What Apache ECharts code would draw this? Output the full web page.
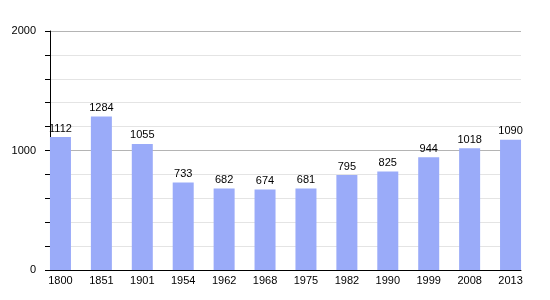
<!DOCTYPE html>
<html><head><meta charset="utf-8">
<script src="https://cdn.jsdelivr.net/npm/echarts@6/dist/echarts.min.js"></script>
<style>html,body{margin:0;padding:0;background:#fff}#c{width:550px;height:300px}</style>
</head><body><div id="c"></div>
<script>
const years = ['1800','1851','1901','1954','1962','1968','1975','1982','1990','1999','2008','2013'];
const population = [1112,1284,1055,733,682,674,681,795,825,944,1018,1090];
const yMin = 0, yMax = 2000, yStep = 1000;

const font = 'Liberation Sans, Arial, sans-serif';
const chart = echarts.init(document.getElementById('c'));
chart.setOption({
  animation: false,
  grid: [
    {left: 40, right: 19, top: 31, bottom: 30},
    {left: 50, right: 29, top: 31, bottom: 30}
  ],
  xAxis: [
    {gridIndex: 0, type: 'category', data: years,
     axisLine: {show: false}, axisTick: {show: false},
     axisLabel: {color: '#000', fontSize: 11, fontFamily: font, margin: 5}},
    {gridIndex: 1, type: 'value', min: 0, max: 1, show: true,
     axisLine: {show: true, onZero: false, lineStyle: {color: '#000', width: 1}},
     axisTick: {show: false}, axisLabel: {show: false}, splitLine: {show: false}}
  ],
  yAxis: [
    {gridIndex: 0, type: 'value', min: yMin, max: yMax, show: false},
    {gridIndex: 1, type: 'value', min: yMin, max: yMax, interval: yStep,
     axisLine: {show: true, lineStyle: {color: '#000', width: 1}},
     axisTick: {show: true, inside: false, length: 5, lineStyle: {color: '#000'}},
     minorTick: {show: true, splitNumber: 5, length: 5, lineStyle: {color: '#000'}},
     axisLabel: {color: '#000', fontSize: 11, fontFamily: font, margin: 14, formatter: v => String(v)},
     splitLine: {show: true, lineStyle: {color: '#b4b4b4', width: 1}},
     minorSplitLine: {show: true, lineStyle: {color: '#e4e4e4', width: 1}}}
  ],
  series: [{
    type: 'bar', xAxisIndex: 0, yAxisIndex: 0, data: population,
    barWidth: 21, z: 3,
    itemStyle: {color: '#9aabf9'},
    label: {show: true, position: 'top', distance: 3, color: '#000', fontSize: 11, fontFamily: font}
  }]
});
</script></body></html>
